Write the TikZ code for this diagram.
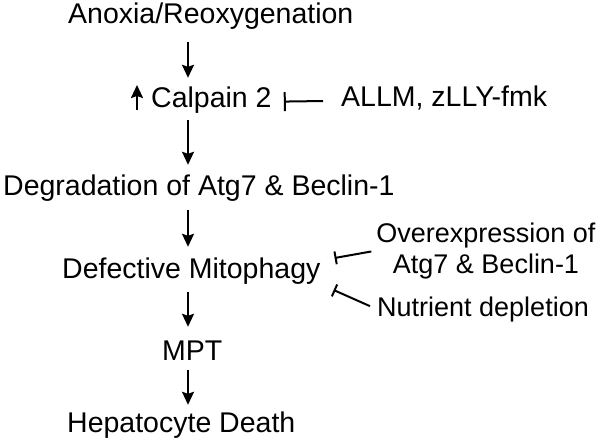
\documentclass[tikz,border=0pt]{standalone}
\usepackage{fontspec}
\setmainfont{Liberation Sans}
\usetikzlibrary{arrows.meta}
\begin{document}
\begin{tikzpicture}[x=1pt,y=-1pt,
  lbl/.style={inner sep=0pt,font=\fontsize{28.5}{34}\selectfont,text height=20.5pt,text depth=6pt},
  side/.style={inner sep=0pt,font=\fontsize{27}{31}\selectfont,text height=19.4pt,text depth=5.7pt},
  side2/.style={inner sep=0pt,font=\fontsize{27}{31}\selectfont,align=center},
  arr/.style={line width=2pt,-{Stealth[length=13pt,width=12pt,inset=2pt]}},
  inh/.style={line width=2pt,-{Bar[width=19pt,line width=2pt]}},
  inhs/.style={line width=2pt,-{Bar[width=13pt,line width=2pt]}}]
\useasboundingbox[fill=white] (0,0) rectangle (600,442);
\coordinate (col) at (188,0);
\node[lbl,anchor=base west] (anox) at (68,23) {Anoxia/Reoxygenation};
\node[lbl,anchor=base west] (calp) at (151,107) {Calpain 2};
\node[lbl,anchor=base west] (allm) at (341,106) {ALLM, zLLY-fmk};
\node[lbl,anchor=base west] (degr) at (3,195) {Degradation of Atg7 \& Beclin-1};
\node[lbl,anchor=base west] (defm) at (62,278) {Defective Mitophagy};
\node[side2,anchor=north] (over) at (486,222.3) {Overexpression of\\Atg7 \& Beclin-1};
\node[side,anchor=base west] (nutr) at (377,316) {Nutrient depletion};
\node[lbl,anchor=base west] (mpt) at (162,360) {MPT};
\node[lbl,anchor=base west] (hepa) at (67,432) {Hepatocyte Death};
\coordinate (t1) at ([shift={(14,-12.75)}]defm.east);
\coordinate (t2) at ([shift={(13,19.25)}]defm.east);
% up arrow before Calpain 2
\draw[arr] ([shift={(-14,3)}]calp.base west) -- ([shift={(-14,-22)}]calp.base west);
\draw[arr,shorten <=13pt,shorten >=8.5pt] (anox.south -| col) -- (calp.north -| col);
\draw[arr,shorten <=7pt,shorten >=9.5pt] (calp.south -| col) -- (degr.north -| col);
\draw[arr,shorten <=9pt,shorten >=10.5pt] (degr.south -| col) -- (defm.north -| col);
\draw[arr,shorten <=8pt,shorten >=12.5pt] (defm.south -| col) -- (mpt.north -| col);
\draw[arr,shorten <=4pt,shorten >=6.5pt] (mpt.south -| col) -- (hepa.north -| col);
\draw[inh,shorten <=18pt,shorten >=12pt] ([yshift=-2pt]allm.west) -- ([yshift=-2pt]calp.east);
\draw[inhs,shorten <=5pt] (over.west) -- (t1);
\draw[inhs] ([shift={(-7,-3)}]nutr.west) -- (t2);
\end{tikzpicture}
\end{document}
